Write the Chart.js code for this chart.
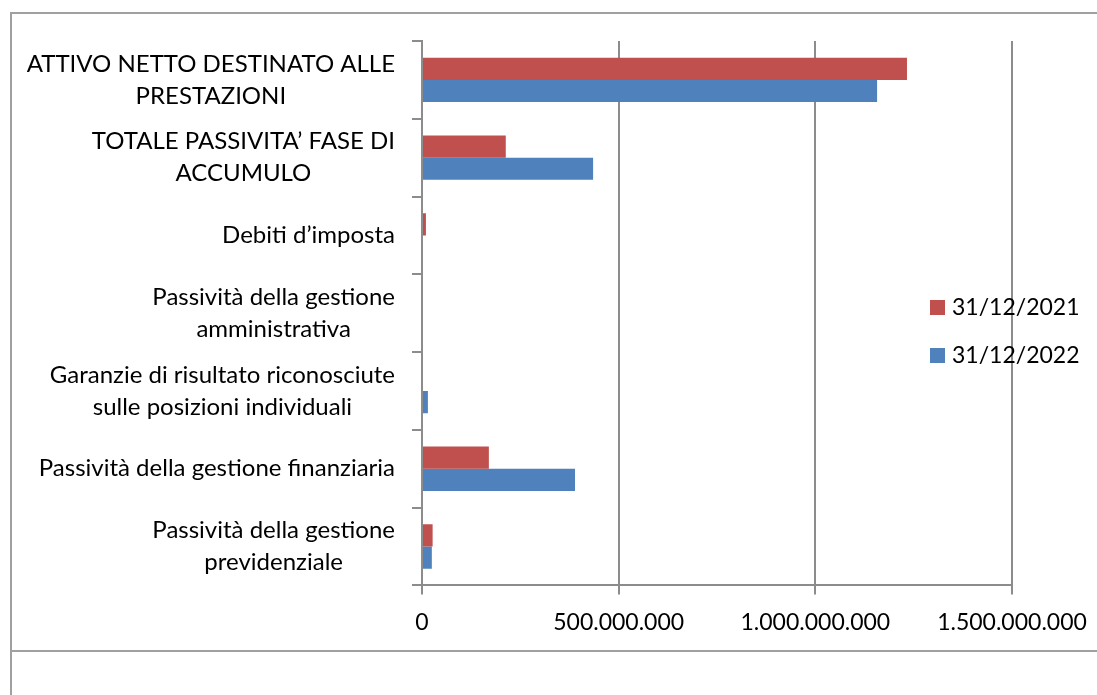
<!DOCTYPE html>
<html lang="it">
<head>
<meta charset="utf-8">
<script src="https://cdn.jsdelivr.net/npm/chart.js@4/dist/chart.umd.min.js"></script>
<style>
  html, body { margin: 0; padding: 0; background: #fff; }
  .cornice { position: absolute; left: 10px; top: 12px; width: 1100px; height: 700px; border-left: 2px solid #a0a0a0; border-top: 2px solid #a0a0a0; }
  .riga { position: absolute; left: 10px; top: 650px; width: 1100px; border-top: 2px solid #a0a0a0; }
  #grafico { position: absolute; left: 0; top: 0; }
</style>
</head>
<body>
<div class="cornice"></div>
<div class="riga"></div>
<canvas id="grafico" width="1097" height="695"></canvas>
<script>
// categorie (dall'alto in basso), righe già spezzate come nel grafico originale
const categorie = [
  ['ATTIVO NETTO DESTINATO ALLE', 'PRESTAZIONI'],
  ['TOTALE PASSIVITA’ FASE DI', 'ACCUMULO'],
  'Debiti d’imposta',
  ['Passività della gestione', 'amministrativa'],
  ['Garanzie di risultato riconosciute', 'sulle posizioni individuali'],
  'Passività della gestione finanziaria',
  ['Passività della gestione', 'previdenziale']
];

const etichetteSerie = ['31/12/2021', '31/12/2022'];
const valori2021 = [1233000000, 213000000, 10000000, 0, 0, 170000000, 27000000];
const valori2022 = [1157000000, 435000000, 0, 0, 15000000, 389000000, 25000000];

// asse dei valori
const tickValori = [0, 500000000, 1000000000, 1500000000];

const ROSSO = '#C0504D';
const BLU = '#4F81BD';
const GRIGIO = '#8c8c8c';
const FONT = 'Lato, "Open Sans", sans-serif';
const DIM_FONT = 23;
const DIM_FONT_CAT = 24;

function formatta(v) {
  return String(v).replace(/\B(?=(\d{3})+(?!\d))/g, '.');
}

/**
 * etichette delle categorie: blocco allineato a destra, righe centrate (come Excel)
 */
const etichetteY = {
  id: 'etichetteY',
  afterDraw(chart) {
    const ctx = chart.ctx;
    const asse = chart.scales.y;
    ctx.save();
    ctx.font = DIM_FONT_CAT + 'px ' + FONT;
    ctx.fillStyle = '#000';
    ctx.textAlign = 'center';
    ctx.textBaseline = 'middle';
    categorie.forEach((cat, i) => {
      const righe = Array.isArray(cat) ? cat : [cat];
      const larghezza = Math.max(...righe.map(r => ctx.measureText(r).width));
      const cx = asse.left - 17 - larghezza / 2;
      const cy = asse.getPixelForTick(i);
      righe.forEach((r, j) => {
        ctx.fillText(r, cx, cy + (j - (righe.length - 1) / 2) * 32);
      });
    });
    ctx.restore();
  }
};

/**
 * legenda sovrapposta all'area del grafico, a destra
 */
const legendaDestra = {
  id: 'legendaDestra',
  afterDraw(chart) {
    const ctx = chart.ctx;
    const area = chart.chartArea;
    ctx.save();
    ctx.font = DIM_FONT + 'px ' + FONT;
    ctx.textBaseline = 'middle';
    ctx.textAlign = 'left';
    chart.data.datasets.forEach((ds, i) => {
      const y = area.top + 266 + i * 48;
      const x = area.right - 82;
      ctx.fillStyle = ds.backgroundColor;
      ctx.fillRect(x, y - 7, 15, 15);
      ctx.fillStyle = '#000';
      ctx.fillText(ds.label, x + 22, y + 1);
    });
    ctx.restore();
  }
};

const data = {
  labels: categorie,
  datasets: [
    { label: etichetteSerie[0], data: valori2021, backgroundColor: ROSSO },
    { label: etichetteSerie[1], data: valori2022, backgroundColor: BLU }
  ]
};

const options = {
  indexAxis: 'y',
  responsive: false,
  animation: false,
  categoryPercentage: 0.57,
  barPercentage: 1.0,
  layout: { padding: { left: 412, top: 41, right: 85, bottom: 45 } },
  scales: {
    x: {
      min: tickValori[0],
      max: tickValori[tickValori.length - 1],
      afterBuildTicks: (scale) => { scale.ticks = tickValori.map(v => ({ value: v })); },
      afterFit: (scale) => { scale.paddingRight = 0; scale.paddingLeft = 0; },
      grid: { color: GRIGIO, lineWidth: 2, tickLength: 9 },
      border: { color: GRIGIO, width: 2 },
      ticks: {
        color: '#000',
        padding: 14,
        maxRotation: 0,
        font: { family: FONT, size: DIM_FONT },
        callback: (v) => formatta(v)
      }
    },
    y: {
      grid: { drawOnChartArea: false, color: GRIGIO, lineWidth: 2, tickLength: 10 },
      border: { color: GRIGIO, width: 2 },
      ticks: { display: false }
    }
  },
  plugins: {
    legend: { display: false },
    tooltip: { enabled: false }
  }
};

new Chart(document.getElementById('grafico').getContext('2d'), {
  type: 'bar',
  data: data,
  options: options,
  plugins: [etichetteY, legendaDestra]
});
</script>
</body>
</html>
